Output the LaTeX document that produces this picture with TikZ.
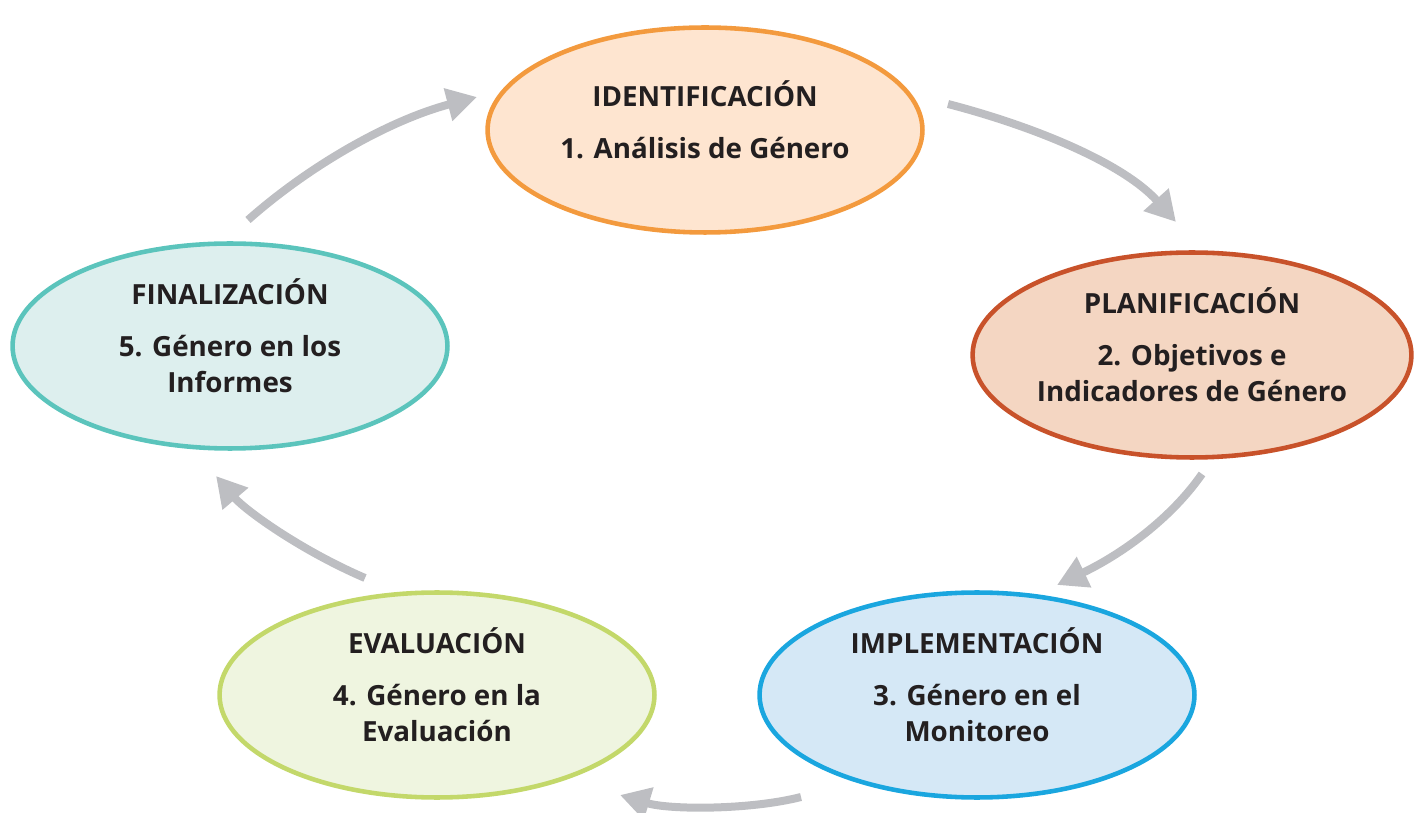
\documentclass[tikz,border=0pt]{standalone}
\usepackage{fontspec}
\setmainfont{Open Sans}
\usepackage{xcolor}
\usetikzlibrary{shapes.geometric, arrows.meta}
\definecolor{ident-line}{RGB}{243,154,62}
\definecolor{ident-fill}{RGB}{254,229,208}
\definecolor{plan-line}{RGB}{200,82,42}
\definecolor{plan-fill}{RGB}{244,214,194}
\definecolor{impl-line}{RGB}{26,166,223}
\definecolor{impl-fill}{RGB}{213,232,246}
\definecolor{eval-line}{RGB}{195,216,106}
\definecolor{eval-fill}{RGB}{239,245,224}
\definecolor{final-line}{RGB}{91,196,188}
\definecolor{final-fill}{RGB}{221,239,238}
\definecolor{flow-gray}{RGB}{189,190,194}
\definecolor{text-dark}{RGB}{35,31,32}

\begin{document}
\begin{tikzpicture}[
  x=0.02cm, y=-0.02cm,
  stage/.style={ellipse, line width=2.6pt, minimum width=8.7cm, minimum height=4.1cm, align=center, inner sep=0pt,
    text depth=12pt, text=text-dark, font=\fontsize{15.8}{20.5}\selectfont\bfseries},
  flow/.style={-{Triangle[length=0.6cm, width=0.64cm]}, line width=0.16cm, flow-gray},
]
  \useasboundingbox (0,0) rectangle (1419,813);

  \node[stage, draw=ident-line, fill=ident-fill] (ident) at (705,130) {IDENTIFICACIÓN\\[9pt]1. Análisis de Género};
  \node[stage, draw=plan-line, fill=plan-fill] (plan) at (1192,355) {PLANIFICACIÓN\\[9pt]2. Objetivos e\\Indicadores de Género};
  \node[stage, draw=impl-line, fill=impl-fill] (impl) at (977,695) {IMPLEMENTACIÓN\\[9pt]3. Género en el\\Monitoreo};
  \node[stage, draw=eval-line, fill=eval-fill] (eval) at (437,695) {EVALUACIÓN\\[9pt]4. Género en la\\Evaluación};
  \node[stage, draw=final-line, fill=final-fill] (final) at (230,346) {FINALIZACIÓN\\[9pt]5. Género en los\\Informes};

  % arrow ends
  \coordinate (fi-a) at (248,220);
  \coordinate (fi-b) at (477,97);
  \coordinate (ip-a) at (948,104);
  \coordinate (ip-b) at (1176,222);
  \coordinate (pm-a) at (1202,474);
  \coordinate (pm-b) at (1057,585);
  \coordinate (me-a) at (801,797);
  \coordinate (me-b) at (620,795);
  \coordinate (ef-a) at (365,578);
  \coordinate (ef-b) at (216,476);

  \draw[flow] (fi-a) .. controls (310,165) and (390,120) .. (fi-b);
  \draw[flow] (ip-a) .. controls (1040,128) and (1125,165) .. (ip-b);
  \draw[flow] (pm-a) .. controls (1170,520) and (1120,555) .. (pm-b);
  \draw[flow] (me-a) .. controls (750,810) and (670,810) .. (me-b);
  \draw[flow] (ef-a) .. controls (300,550) and (245,510) .. (ef-b);
\end{tikzpicture}
\end{document}
